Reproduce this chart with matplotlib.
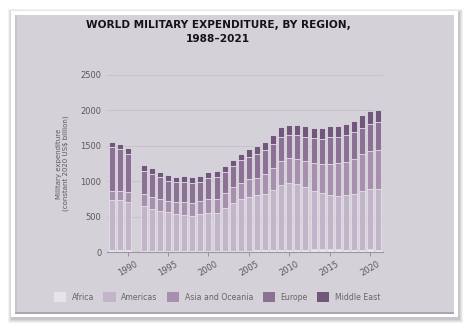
import matplotlib
matplotlib.use("Agg")
import matplotlib.pyplot as plt
from matplotlib.patches import Rectangle
import numpy as np

# Military expenditure by region, constant 2020 US$ billion (no 1991 entry)
years = [1988, 1989, 1990, 1992, 1993, 1994, 1995, 1996, 1997, 1998, 1999,
         2000, 2001, 2002, 2003, 2004, 2005, 2006, 2007, 2008, 2009, 2010,
         2011, 2012, 2013, 2014, 2015, 2016, 2017, 2018, 2019, 2020, 2021]
africa = [28, 27, 26, 22, 21, 20, 19, 18, 18, 19, 20, 21, 21, 22, 23, 25, 25,
          26, 27, 30, 31, 32, 36, 38, 42, 44, 42, 40, 39, 38, 38, 41, 39]
americas = [710, 711, 688, 636, 595, 567, 545, 522, 513, 498, 516, 529, 529,
            598, 668, 727, 760, 778, 791, 844, 918, 950, 932, 888, 823, 788,
            762, 759, 769, 784, 827, 847, 849]
asia_oceania = [132, 132, 141, 164, 169, 160, 160, 165, 179, 183, 188, 197,
                207, 212, 235, 230, 249, 249, 291, 310, 334, 343, 352, 366,
                390, 409, 437, 456, 470, 489, 517, 545, 550]
europe = [620, 582, 531, 325, 319, 320, 282, 282, 286, 282, 263, 296, 300,
          300, 291, 320, 315, 338, 334, 338, 348, 329, 334, 339, 352, 361,
          385, 376, 376, 381, 366, 371, 395]
middle_east = [70, 75, 89, 84, 90, 70, 79, 80, 85, 85, 94, 89, 85, 85, 85, 89,
               103, 108, 117, 127, 136, 141, 141, 150, 146, 151, 155, 150, 155,
               164, 183, 188, 173]

regions = ["Africa", "Americas", "Asia and Oceania", "Europe", "Middle East"]
series = [africa, americas, asia_oceania, europe, middle_east]
colors = ["#e7e3eb", "#c2b5ca", "#a690ae", "#8b7295", "#70577b"]

x_ticks = [1990, 1995, 2000, 2005, 2010, 2015, 2020]
y_ticks = [0, 500, 1000, 1500, 2000, 2500]

W, H = 470, 330
fig = plt.figure(figsize=(W / 100, H / 100), dpi=100)
fig.patch.set_facecolor("white")

def px_rect(x0, y0, x1, y1, **kw):
    return Rectangle((x0 / W, 1 - y1 / H), (x1 - x0) / W, (y1 - y0) / H,
                     transform=fig.transFigure, **kw)

# soft drop shadow around the card
for i, a in enumerate([0.05, 0.05, 0.06, 0.07]):
    d = 4 - i
    fig.patches.append(px_rect(11 - d + 1, 11 - d + 2, 458 + d + 1, 317 + d + 2,
                               facecolor="#000000", alpha=a, linewidth=0, zorder=0))
# white card with the tinted panel inside
fig.patches.append(px_rect(11, 11, 458, 317, facecolor="white", linewidth=0, zorder=1))
fig.patches.append(px_rect(15, 15, 454, 314, facecolor="#a9a5ad", linewidth=0, zorder=2))
fig.patches.append(px_rect(15, 15, 454, 312, facecolor="#d5d1d9", linewidth=0, zorder=3))
fig.patches.append(px_rect(15, 15, 17, 312, facecolor="#c8c4cc", linewidth=0, zorder=4))

ax = fig.add_axes([107 / W, 1 - 252.3 / H, (383 - 107) / W, (252.3 - 75) / H])
ax.set_facecolor("none")
ax.set_zorder(10)

bottom = np.zeros(len(years))
handles = []
for name, vals, c in zip(regions, series, colors):
    vals = np.array(vals, dtype=float)
    b = ax.bar(years, vals, bottom=bottom, width=0.74, color=c,
               edgecolor="#e9e5ed", linewidth=0.5, label=name, zorder=3)
    handles.append(b)
    bottom += vals

ax.set_xlim(1987.44, 2021.6)
ax.set_ylim(0, 2500)
ax.set_yticks(y_ticks)
ax.set_yticklabels([str(v) for v in y_ticks], fontsize=6, color="#5a5a5a")
ax.set_xticks(x_ticks)
ax.set_xticklabels([str(v) for v in x_ticks], fontsize=6, color="#5a5a5a",
                   rotation=30)
ax.tick_params(axis="y", length=0, pad=4)
ax.tick_params(axis="x", length=3, width=0.6, color="#8a8a8a", pad=2)
ax.grid(axis="y", color="#c4c0c8", linewidth=0.6, zorder=0)
for s in ["top", "right", "left"]:
    ax.spines[s].set_visible(False)
ax.spines["bottom"].set_color("#9a96a0")
ax.spines["bottom"].set_linewidth(0.8)

ax.set_ylabel("Military expenditure\n(constant 2020 US$ billion)", fontsize=5,
              color="#5a5a5a", labelpad=8, linespacing=1.25)

fig.text(218 / W, 1 - 32 / H, "WORLD MILITARY EXPENDITURE, BY REGION,\n1988–2021",
         ha="center", va="center", fontsize=7.6, fontweight="heavy", color="#141414",
         linespacing=1.6, zorder=20)

leg = fig.legend(handles=handles, labels=regions, loc="center",
                 bbox_to_anchor=(217 / W, 1 - 297 / H), ncol=5, frameon=False,
                 fontsize=5.6, handlelength=1.6, handleheight=1.6,
                 handletextpad=0.7, columnspacing=1.2, labelcolor="#666666")
leg.set_zorder(20)
for h in leg.legend_handles:
    h.set_edgecolor("none")

fig.savefig("out.png", dpi=100, facecolor=fig.get_facecolor())
